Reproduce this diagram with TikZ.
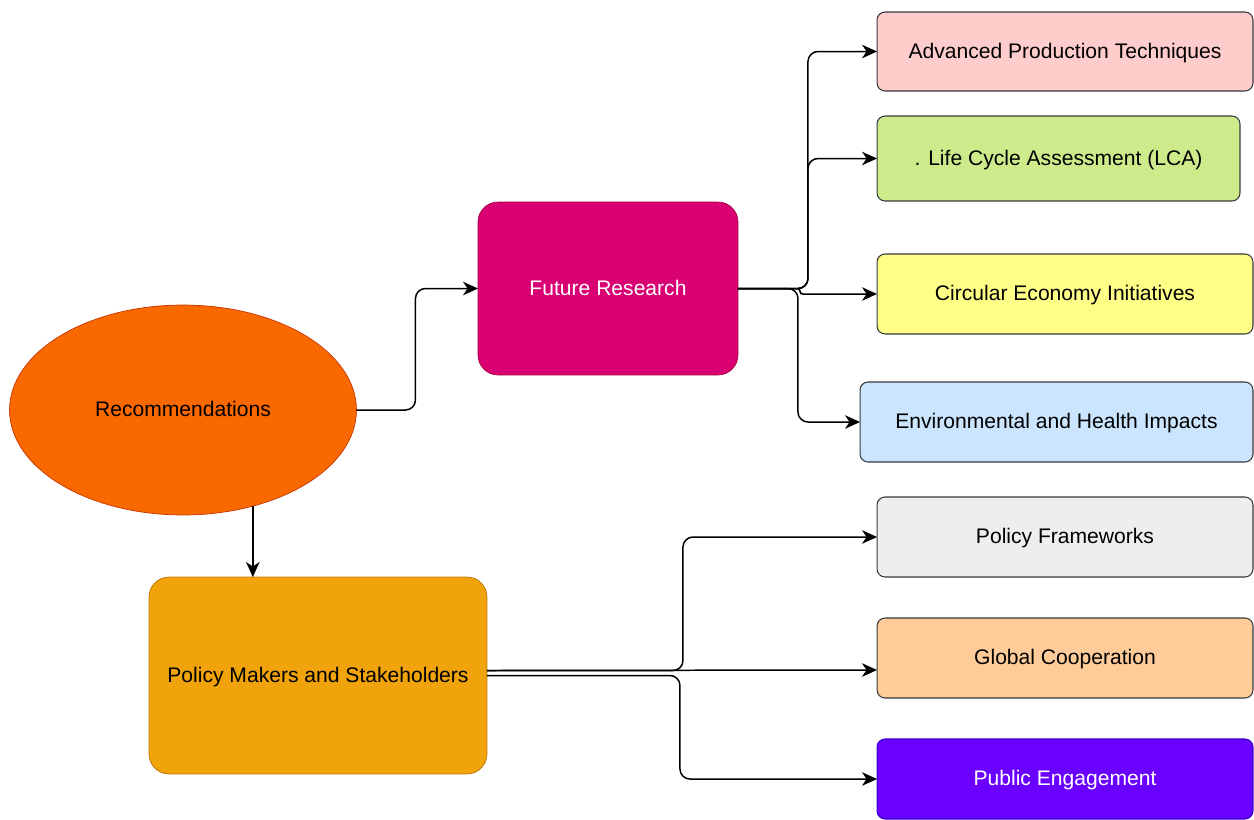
\documentclass[tikz,border=0pt]{standalone}
\usepackage{fontspec}
\setmainfont{Liberation Sans}
\usetikzlibrary{positioning,arrows.meta,shapes.geometric}

\definecolor{recfill}{HTML}{FA6800}
\definecolor{recline}{HTML}{C73500}
\definecolor{resfill}{HTML}{D80073}
\definecolor{resline}{HTML}{A50040}
\definecolor{polfill}{HTML}{F0A30A}
\definecolor{polline}{HTML}{BD7000}
\definecolor{boxline}{HTML}{36393D}
\definecolor{pinkfill}{HTML}{FFCCCC}
\definecolor{greenfill}{HTML}{CDEB8B}
\definecolor{yellowfill}{HTML}{FFFF88}
\definecolor{bluefill}{HTML}{CCE5FF}
\definecolor{greyfill}{HTML}{EEEEEE}
\definecolor{peachfill}{HTML}{FFCC99}
\definecolor{violetfill}{HTML}{6A00FF}
\definecolor{violetline}{HTML}{3700CC}

\begin{document}
\begin{tikzpicture}[x=0.02cm,y=-0.02cm,
			>={Stealth[length=0.3cm,width=0.27cm,inset=0.09cm]},
			every node/.style={
				align=center,
				inner sep=0pt,
				outer sep=0pt,
				text height=0.9em,
				text depth=0.14em,
				font=\fontsize{12}{14}\selectfont
			},
			topic/.style={
				draw=boxline,
				line width=0.6pt,
				rounded corners=0.16cm,
				minimum width=7.52cm,
				minimum height=1.6cm
			},
			link/.style={->,line width=0.85pt,rounded corners=0.2cm}]
			
			\useasboundingbox (0,0) rectangle (1254,819);
			
			\node (rec)[ellipse,draw=recline,fill=recfill,minimum width=6.94cm,minimum height=4.2cm] at (183,410){Recommendations};
			
			\node (research)[draw=resline,fill=resfill,text=white,rounded corners=0.4cm,minimum width=5.2cm,minimum height=3.46cm] at (608,288.5){Future Research};
			
			\node (policy)[draw=polline,fill=polfill,rounded corners=0.4cm,minimum width=6.76cm,minimum height=3.94cm] at (318,675.5){Policy Makers and Stakeholders};
			
			\node (production)[topic,fill=pinkfill,minimum height=1.58cm] at (1065,51.5){Advanced Production Techniques};
			
			\node (lca)[topic,fill=greenfill,minimum width=7.26cm,minimum height=1.7cm] at (1058.5,158.5){. Life Cycle Assessment (LCA)};
			
			\node (circular)[topic,fill=yellowfill] at (1065,294){Circular Economy Initiatives};
			
			\node (impacts)[topic,fill=bluefill,minimum width=7.86cm] at (1056.5,422){Environmental and Health Impacts};
			
			\node (frameworks)[topic,fill=greyfill] at (1065,537){Policy Frameworks};
			
			\node (cooperation)[topic,fill=peachfill] at (1065,658){Global Cooperation};
			
			\node (engagement)[topic,draw=violetline,fill=violetfill,text=white] at (1065,779){Public Engagement};
			
			\draw[link](rec.east)-- ++(59,0) |- (research.west);
			
			\draw[link](rec.-54)--(rec.-54 |- policy.north);
			
			\draw[link](research.east)-- ++(70,0) |- (production.west);
			
			\draw[link](research.east)-- ++(70,0) |- (lca.west);
			
			\draw[link,rounded corners=0.06cm](research.east)-- ++(62,0) |- (circular.west);
			
			\draw[link](research.east)-- ++(60,0) |- (impacts.west);
			
			\draw[link]([yshift=0.1cm]policy.east)-- ++(196,0) |- (frameworks.west);
			
			\draw[link]([yshift=0.1cm]policy.east)--([yshift=-0.24cm]cooperation.west);
			
			\draw[link](policy.east)-- ++(193,0) |- (engagement.west);
			
		\end{tikzpicture}
\end{document}
